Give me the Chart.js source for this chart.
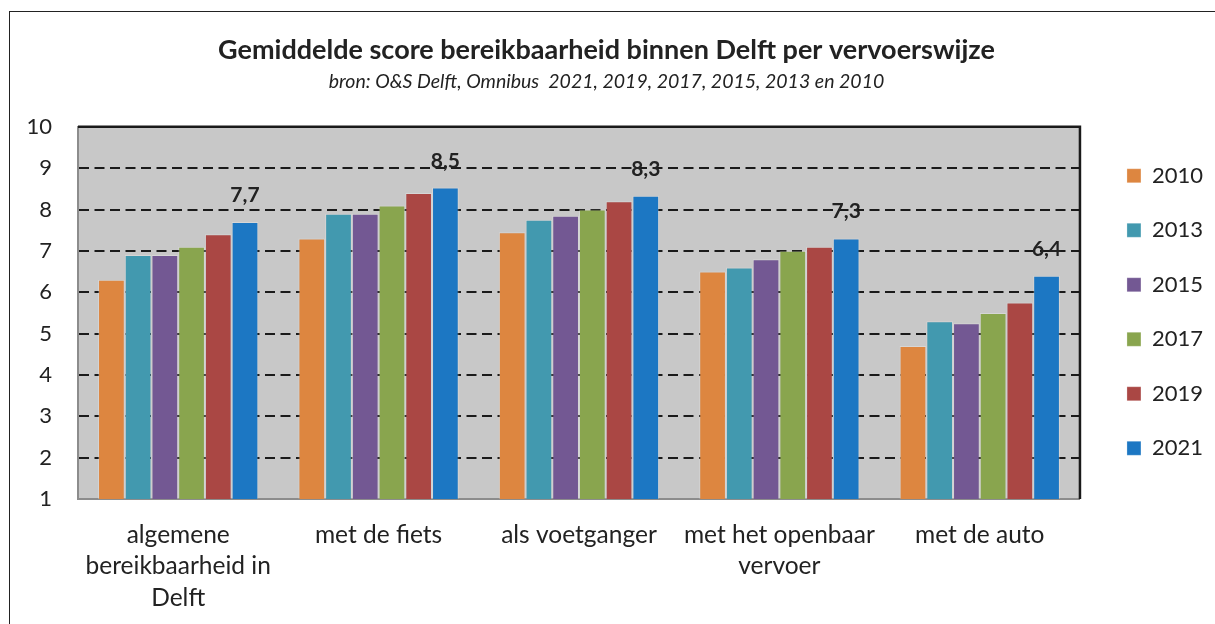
<!DOCTYPE html>
<html>
<head>
<meta charset="utf-8">
<script src="https://cdn.jsdelivr.net/npm/chart.js@4/dist/chart.umd.min.js"></script>
<style>
  html, body { margin: 0; padding: 0; background: #fff; }
  #wrap { position: relative; width: 1215px; height: 624px; overflow: hidden; }
  #frame { position: absolute; left: 9px; top: 11px; width: 1230px; height: 640px; border: 1.5px solid #222; box-sizing: border-box; }
  canvas { position: absolute; left: 0; top: 0; }
</style>
</head>
<body>
<div id="wrap">
  <div id="frame"></div>
  <canvas id="chart" width="1215" height="624"></canvas>
</div>
<script>
// categories (x axis)
const categories = [
  ['algemene', 'bereikbaarheid in', 'Delft'],
  'met de fiets',
  'als voetganger',
  ['met het openbaar', 'vervoer'],
  'met de auto'
];

// survey years
const years = ['2010', '2013', '2015', '2017', '2019', '2021'];

// average scores per year
const score2010 = [6.3, 7.3, 7.45, 6.5, 4.7];
const score2013 = [6.9, 7.9, 7.75, 6.6, 5.3];
const score2015 = [6.9, 7.9, 7.85, 6.8, 5.25];
const score2017 = [7.1, 8.1, 8.0, 7.0, 5.5];
const score2019 = [7.4, 8.4, 8.2, 7.1, 5.75];
const score2021 = [7.7, 8.53, 8.33, 7.3, 6.4];

const yTicks = [1, 2, 3, 4, 5, 6, 7, 8, 9, 10];

const colors = ['#DD8640', '#4299AF', '#735893', '#89A54E', '#AA4744', '#1C77C3'];
const series = [score2010, score2013, score2015, score2017, score2019, score2021];

const FONT = 'Lato, "Open Sans", sans-serif';

// grey plot background + frame (top/right black)
const plotFrame = {
  id: 'plotFrame',
  beforeDraw(chart) {
    const { ctx, chartArea: a } = chart;
    ctx.save();
    ctx.fillStyle = '#c8c8c8';
    ctx.fillRect(a.left, a.top, a.right - a.left, a.bottom - a.top);
    ctx.restore();
  },
  afterDraw(chart) {
    const { ctx, chartArea: a } = chart;
    ctx.save();
    ctx.strokeStyle = '#1a1a1a';
    ctx.lineWidth = 2.5;
    ctx.beginPath();
    ctx.moveTo(a.left, a.top);
    ctx.lineTo(a.right, a.top);
    ctx.lineTo(a.right, a.bottom);
    ctx.stroke();
    ctx.restore();
  }
};

// value label above the 2021 bars only
const lastLabels = {
  id: 'lastLabels',
  afterDatasetsDraw(chart) {
    const { ctx } = chart;
    const idx = chart.data.datasets.length - 1;
    const meta = chart.getDatasetMeta(idx);
    ctx.save();
    ctx.font = 'bold 21px ' + FONT;
    ctx.fillStyle = '#222';
    ctx.textAlign = 'center';
    ctx.textBaseline = 'alphabetic';
    meta.data.forEach((bar, i) => {
      const v = chart.data.datasets[idx].data[i];
      ctx.fillText(v.toFixed(1).replace('.', ','), bar.x, bar.y - 20);
    });
    ctx.restore();
  }
};

new Chart(document.getElementById('chart'), {
  type: 'bar',
  data: {
    labels: categories,
    datasets: years.map((y, i) => ({
      label: y,
      data: series[i],
      backgroundColor: colors[i],
      borderColor: 'rgba(255,255,255,0.25)',
      borderWidth: 1,
      categoryPercentage: 0.8,
      barPercentage: 1
    }))
  },
  options: {
    responsive: false,
    animation: false,
    devicePixelRatio: 1,
    layout: { padding: { left: 0, right: 2, top: 0, bottom: 0 } },
    plugins: {
      title: {
        display: true,
        text: 'Gemiddelde score bereikbaarheid binnen Delft per vervoerswijze',
        color: '#222',
        font: { family: FONT, size: 27, weight: 'bold' },
        padding: { top: 34, bottom: 0 }
      },
      subtitle: {
        display: true,
        text: 'bron: O&S Delft, Omnibus  2021, 2019, 2017, 2015, 2013 en 2010',
        color: '#222',
        font: { family: FONT, size: 19.5, style: 'italic' },
        padding: { top: 4, bottom: 33 }
      },
      legend: {
        position: 'right',
        labels: {
          color: '#222',
          font: { family: FONT, size: 22 },
          boxWidth: 14,
          boxHeight: 14,
          padding: 32.5
        }
      },
      tooltip: { enabled: false }
    },
    scales: {
      x: {
        grid: { display: false, drawTicks: false },
        border: { display: true, color: '#8c8c8c', width: 2 },
        ticks: {
          color: '#222',
          font: { family: FONT, size: 24.5, lineHeight: 1.286 },
          padding: 20,
          maxRotation: 0,
          autoSkip: false
        },
        afterFit(s) { s.height = 125; }
      },
      y: {
        min: 1,
        max: 10,
        afterBuildTicks(s) { s.ticks = yTicks.map(v => ({ value: v })); },
        grid: {
          drawTicks: false,
          color: ctx => (ctx.tick && (ctx.tick.value === 1 || ctx.tick.value === 10)) ? 'rgba(0,0,0,0)' : '#1a1a1a',
          lineWidth: 2
        },
        border: { display: true, color: '#8c8c8c', width: 2, dash: [10, 5.5] },
        ticks: {
          color: '#222',
          font: { family: FONT, size: 22 },
          padding: 26
        },
        afterFit(s) { s.width = 78; }
      },
      gap: {
        position: 'right',
        display: true,
        grid: { display: false, drawTicks: false },
        border: { display: false },
        ticks: { display: false },
        afterFit(s) { s.width = 14.5; }
      }
    }
  },
  plugins: [plotFrame, lastLabels]
});
</script>
</body>
</html>
